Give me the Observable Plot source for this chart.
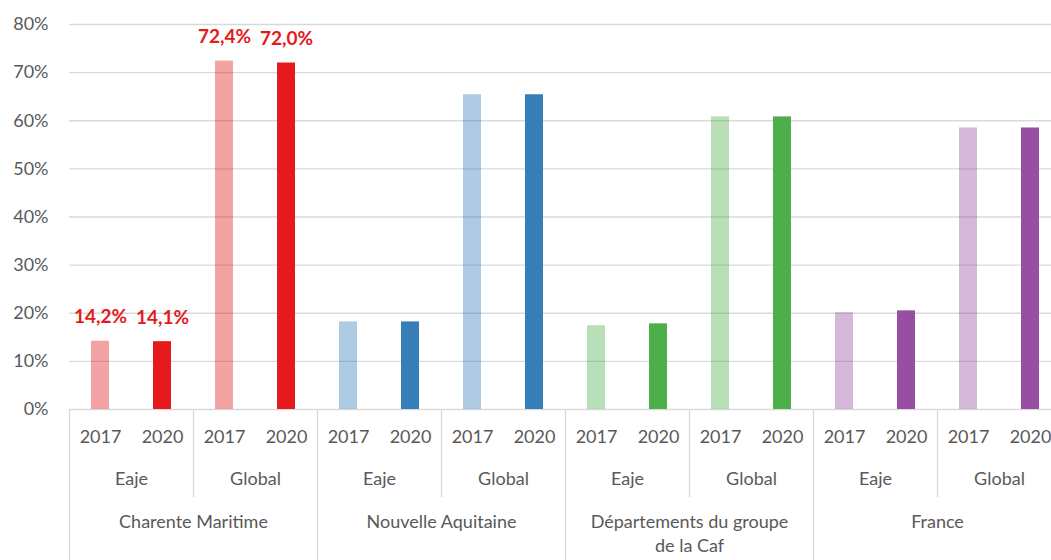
<!DOCTYPE html>
<html>
<head>
<meta charset="utf-8">
<script src="https://cdn.jsdelivr.net/npm/d3@7"></script>
<script src="https://cdn.jsdelivr.net/npm/@observablehq/plot@0.6"></script>
<style>
  html, body { margin: 0; padding: 0; background: #fff; overflow: hidden; }
  #chart { width: 1051px; height: 560px; overflow: hidden; }
  #chart svg { max-width: none !important; }
</style>
</head>
<body>
<div id="chart"></div>
<script>
// ---- data ----
const regions = ["Charente Maritime", "Nouvelle Aquitaine", "Départements du groupe\nde la Caf", "France"];
const types = ["Eaje", "Global"];
const years = ["2017", "2020"];
const regionColors = ["#E41A1C", "#377EB8", "#4DAF4A", "#984EA3"];
// order per region: Eaje 2017, Eaje 2020, Global 2017, Global 2020 (in %)
const charenteValues = [14.2, 14.1, 72.4, 72.0];
const aquitaineValues = [18.2, 18.2, 65.4, 65.4];
const groupeValues = [17.4, 17.8, 60.8, 60.8];
const franceValues = [20.1, 20.5, 58.5, 58.5];
const labelledRegions = ["Charente Maritime"];
const yTicks = [0, 10, 20, 30, 40, 50, 60, 70, 80];

// ---- build table ----
const seriesValues = [charenteValues, aquitaineValues, groupeValues, franceValues];
const rows = [];
regions.forEach((region, r) => {
  types.forEach((type, t) => {
    years.forEach((year, y) => {
      const k = t * years.length + y;
      rows.push({
        i: r * types.length * years.length + k,
        region, type, year,
        value: seriesValues[r][k],
        color: regionColors[r],
        light: year === "2017",
        labelled: labelledRegions.includes(region)
      });
    });
  });
});
const nBars = rows.length;
const perRegion = types.length * years.length;
const typeCells = [];
regions.forEach((region, r) => types.forEach((type, t) => {
  typeCells.push({start: r * perRegion + t * years.length, type});
}));
const regionCells = regions.map((region, r) => ({start: r * perRegion, region}));
const typeDividers = typeCells.filter(d => d.start % perRegion !== 0).map(d => d.start);
const regionDividers = d3.range(0, nBars + 1, perRegion);

const fmt = v => v.toFixed(1).replace(".", ",") + "%";

const plot = Plot.plot({
  width: 1061,
  height: 560,
  marginLeft: 69,
  marginRight: 0,
  marginTop: 24,
  marginBottom: 151,
  style: {fontFamily: "Lato, 'Open Sans', sans-serif", fontSize: "18px", color: "#595959", background: "#fff", maxWidth: "none"},
  x: {type: "linear", domain: [0, nBars], axis: null},
  y: {domain: [0, 80], axis: null, label: null},
  marks: [
    Plot.gridY(yTicks, {stroke: "#D9D9D9", strokeOpacity: 1, strokeWidth: 1.3}),
    Plot.axisY(yTicks, {tickSize: 0, tickPadding: 21, tickFormat: d => d + "%", fontSize: 18, fill: "#595959", label: null}),
    Plot.rectY(rows, {
      x1: d => d.i, x2: d => d.i + 1, y1: 0, y2: "value",
      fill: d => d.color, fillOpacity: d => d.light ? 0.4 : 1,
      insetLeft: 22, insetRight: 22
    }),
    Plot.text(rows.filter(d => d.labelled), {
      x: d => d.i + 0.5, y: "value", text: d => fmt(d.value),
      dy: -24, fill: "#E41A1C", fontWeight: "bold", fontSize: 19
    }),
    // category axis
    Plot.ruleX(typeDividers, {x: d => d, stroke: "#D9D9D9", strokeWidth: 1.3, insetTop: 385, insetBottom: -88}),
    Plot.ruleX(regionDividers, {x: d => d, stroke: "#D9D9D9", strokeWidth: 1.3, insetTop: 385, insetBottom: -151}),
    Plot.text(rows, {x: d => d.i + 0.5, text: "year", frameAnchor: "bottom", dy: 33, fill: "#595959", fontSize: 18}),
    Plot.text(typeCells, {x: d => d.start + years.length / 2, text: "type", frameAnchor: "bottom", dy: 75, fill: "#595959", fontSize: 18}),
    Plot.text(regionCells, {x: d => d.start + perRegion / 2, text: "region", frameAnchor: "bottom", lineAnchor: "top", lineHeight: 1.36, dy: 101, fill: "#595959", fontSize: 18})
  ]
});
document.getElementById("chart").appendChild(plot);
</script>
</body>
</html>
